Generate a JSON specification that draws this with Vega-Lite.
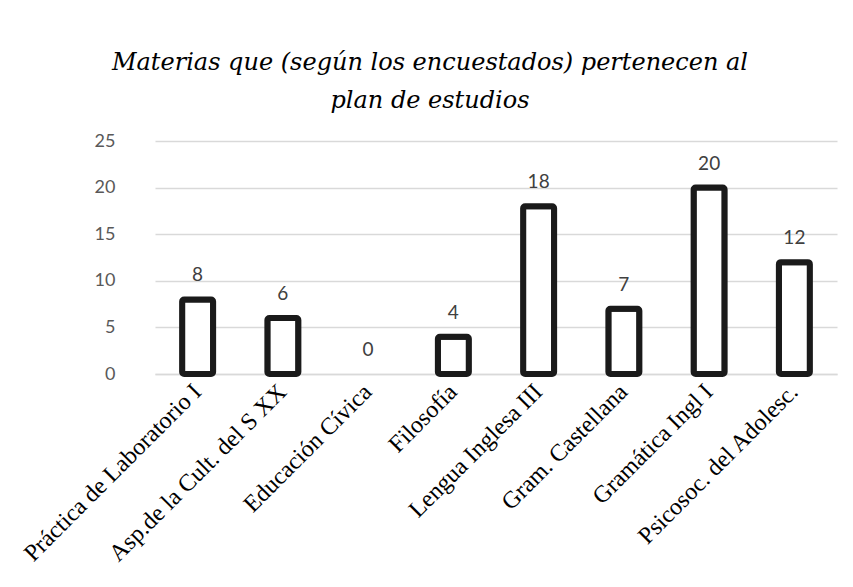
{
  "$schema": "https://vega.github.io/schema/vega-lite/v6.json",
  "width": 682,
  "height": 233,
  "autosize": "none",
  "padding": {"left": 155, "top": 141, "right": 16, "bottom": 213},
  "background": "white",
  "title": {
    "text": ["Materias que (según los encuestados) pertenecen al", "plan de estudios"],
    "font": "DejaVu Serif",
    "fontStyle": "italic",
    "fontWeight": "normal",
    "fontSize": 24,
    "lineHeight": 38,
    "color": "#000000",
    "anchor": "middle",
    "dx": -66,
    "offset": 19
  },
  "data": {
    "values": [
      {"materia": "Práctica de Laboratorio I", "n": 8},
      {"materia": "Asp.de la Cult. del S XX", "n": 6},
      {"materia": "Educación Cívica", "n": 0},
      {"materia": "Filosofía", "n": 4},
      {"materia": "Lengua Inglesa III", "n": 18},
      {"materia": "Gram. Castellana", "n": 7},
      {"materia": "Gramática Ingl I", "n": 20},
      {"materia": "Psicosoc. del Adolesc.", "n": 12}
    ]
  },
  "encoding": {
    "x": {
      "field": "materia",
      "type": "nominal",
      "sort": ["Práctica de Laboratorio I", "Asp.de la Cult. del S XX", "Educación Cívica", "Filosofía", "Lengua Inglesa III", "Gram. Castellana", "Gramática Ingl I", "Psicosoc. del Adolesc."],
      "title": null,
      "axis": {
        "labelAngle": -45,
        "labelAlign": "right",
        "labelBaseline": "middle",
        "labelFont": "Liberation Serif",
        "labelFontSize": 24,
        "labelColor": "#000000",
        "labelPadding": 14,
        "ticks": false,
        "domain": true,
        "domainColor": "#d9d9d9",
        "domainWidth": 1.5,
        "grid": false,
        "labelLimit": 400
      }
    },
    "y": {
      "field": "n",
      "type": "quantitative",
      "title": null,
      "scale": {"domain": [0, 25], "nice": false},
      "axis": {
        "values": [0, 5, 10, 15, 20, 25],
        "labelFont": "Lato",
        "labelFontSize": 18,
        "labelColor": "#595959",
        "labelPadding": 40,
        "ticks": false,
        "domain": false,
        "grid": true,
        "gridColor": "#d9d9d9",
        "gridWidth": 1.5
      }
    }
  },
  "layer": [
    {
      "transform": [{"filter": "datum.n > 0"}],
      "mark": {
        "type": "bar",
        "size": 31,
        "fill": "#ffffff",
        "stroke": "#1a1a1a",
        "strokeWidth": 6,
        "cornerRadius": 2
      }
    },
    {
      "mark": {
        "type": "text",
        "baseline": "bottom",
        "dy": -14,
        "font": "Lato",
        "fontSize": 19,
        "color": "#404040"
      },
      "encoding": {"text": {"field": "n", "type": "quantitative"}}
    }
  ],
  "config": {"view": {"stroke": null}}
}
